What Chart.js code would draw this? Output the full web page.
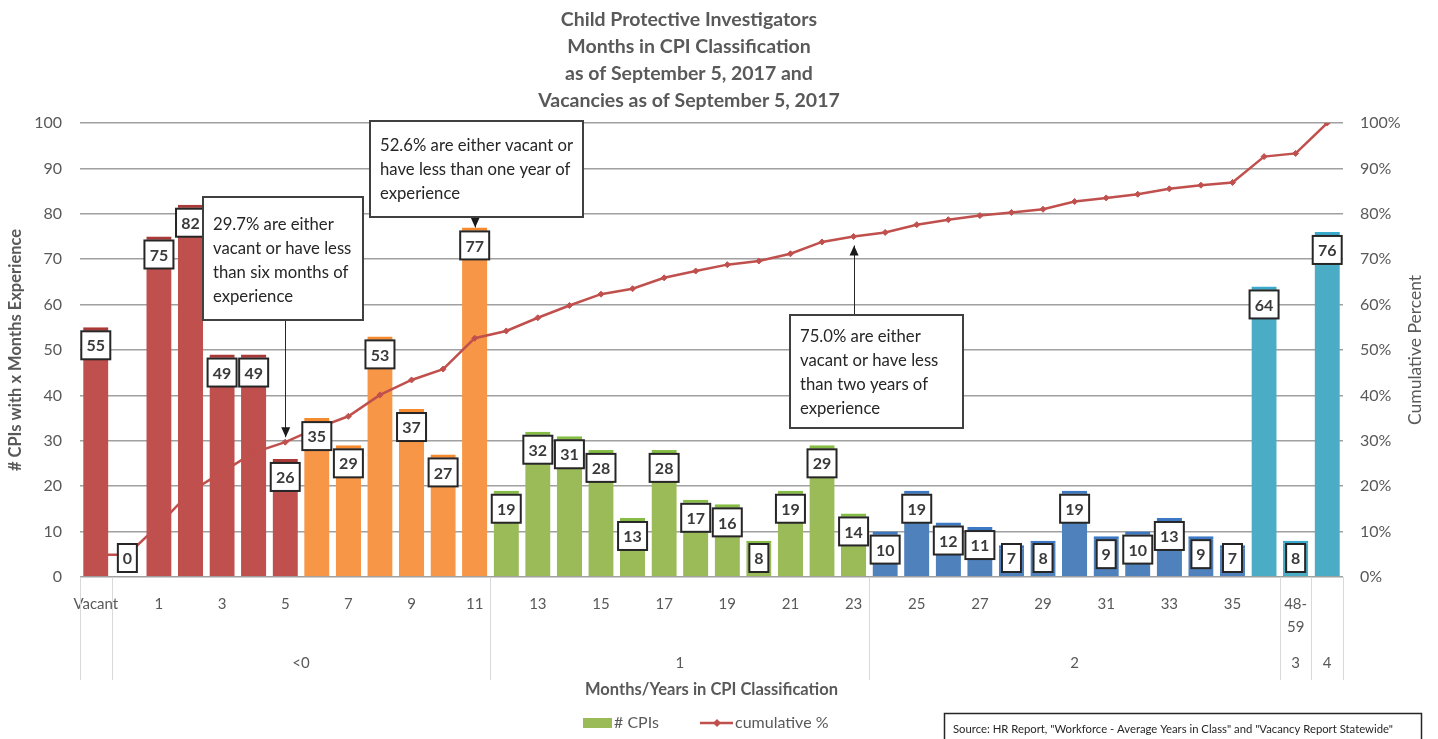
<!DOCTYPE html>
<html>
<head>
<meta charset="utf-8">
<title>Child Protective Investigators - Months in CPI Classification</title>
<script src="https://cdn.jsdelivr.net/npm/chart.js@4.4.1/dist/chart.umd.min.js"></script>
<style>
  html, body { margin: 0; padding: 0; background: #fff; }
  canvas { display: block; }
</style>
</head>
<body>
<canvas id="cpiChart" width="1438" height="739"></canvas>
<script>
// months in class (Vacant, then 0..35, then the yearly buckets)
const categories = ['Vacant', '0', '1', '2', '3', '4', '5', '6', '7', '8', '9', '10', '11',
  '12', '13', '14', '15', '16', '17', '18', '19', '20', '21', '22', '23',
  '24', '25', '26', '27', '28', '29', '30', '31', '32', '33', '34', '35',
  '36-47', '48-59', '60+'];

const cpiCounts = [55, 0, 75, 82, 49, 49, 26, 35, 29, 53, 37, 27, 77,
  19, 32, 31, 28, 13, 28, 17, 16, 8, 19, 29, 14,
  10, 19, 12, 11, 7, 8, 19, 9, 10, 13, 9, 7,
  64, 8, 76];

// cumulative %
const cumulativePct = [4.9, 4.9, 11.5, 18.8, 23.1, 27.4, 29.7, 32.8, 35.4, 40.1, 43.4, 45.8, 52.6,
  54.2, 57.1, 59.8, 62.3, 63.5, 65.9, 67.4, 68.8, 69.6, 71.2, 73.8, 75.0,
  75.9, 77.6, 78.7, 79.6, 80.3, 81.0, 82.7, 83.5, 84.3, 85.5, 86.3, 86.9,
  92.6, 93.3, 100];

// second level of the category axis (years), with how many categories each covers
const yearGroups = ['', '<0', '1', '2', '3', '4'];
const yearGroupSizes = [1, 12, 12, 13, 1, 1];

const titleLines = ['Child Protective Investigators', 'Months in CPI Classification',
  'as of September 5, 2017 and', 'Vacancies as of September 5, 2017'];

const callouts = [
  { lines: ['29.7% are either', 'vacant or have less', 'than six months of', 'experience'],
    index: 6, axis: 'y1', value: 29.7 },
  { lines: ['52.6% are either vacant or', 'have less than one year of', 'experience'],
    index: 12, axis: 'y', value: 77 },
  { lines: ['75.0% are either', 'vacant or have less', 'than two years of', 'experience'],
    index: 24, axis: 'y1', value: 75.0 }
];

const sourceNote = 'Source: HR Report, "Workforce - Average Years in Class" and "Vacancy Report Statewide"';

// ---- styling ----
const plotFont = 'Lato, "Open Sans", "DejaVu Sans", sans-serif';
const textGray = '#595959';

function barFill(i) {
  if (i <= 6) return '#C0504D';
  if (i <= 12) return '#F79646';
  if (i <= 24) return '#9BBB59';
  if (i <= 36) return '#4F81BD';
  return '#4BACC6';
}
function barCap(i) {
  if (i <= 6) return '#A93A37';
  if (i <= 12) return '#F58A2E';
  if (i <= 24) return '#86BD45';
  if (i <= 36) return '#3C78C4';
  return '#39AACB';
}

// where each callout box sits and how its arrow runs
const calloutBoxes = [
  { x: 203, y: 197, w: 160, h: 123, textTop: 28, dir: 'down', gap: 5 },
  { x: 370, y: 121, w: 213, h: 96, textTop: 25, dir: 'down', gap: 0 },
  { x: 790, y: 315, w: 173, h: 113, textTop: 22, dir: 'up', gap: 9 }
];

const valueBoxes = {
  id: 'valueBoxes',
  afterDatasetsDraw(chart) {
    const { ctx, chartArea } = chart;
    const meta = chart.getDatasetMeta(0);
    ctx.save();
    ctx.font = 'bold 16px ' + plotFont;
    ctx.textAlign = 'center';
    ctx.textBaseline = 'middle';
    meta.data.forEach((bar, i) => {
      const txt = String(cpiCounts[i]);
      const w = Math.round(ctx.measureText(txt).width + 10);
      const h = 28;
      const top = Math.min(bar.y + 4, chartArea.bottom - 5 - h);
      const left = bar.x - w / 2;
      ctx.fillStyle = '#fff';
      ctx.fillRect(left, top, w, h);
      ctx.lineWidth = 2;
      ctx.strokeStyle = '#262626';
      ctx.strokeRect(left, top, w, h);
      ctx.fillStyle = '#3a3a3a';
      ctx.fillText(txt, bar.x, top + h / 2 + 1);
    });
    ctx.restore();
  }
};

const chartDressing = {
  id: 'chartDressing',
  afterDraw(chart) {
    const { ctx, chartArea, scales } = chart;
    const xs = scales.x;
    ctx.save();

    // title
    ctx.fillStyle = textGray;
    ctx.font = 'bold 19.5px ' + plotFont;
    ctx.textAlign = 'center';
    ctx.textBaseline = 'middle';
    titleLines.forEach((t, k) => ctx.fillText(t, 689, 20 + k * 27));

    // axis titles
    ctx.font = 'bold 16.5px ' + plotFont;
    ctx.save();
    ctx.translate(16, 350);
    ctx.rotate(-Math.PI / 2);
    ctx.fillText('# CPIs with x Months Experience', 0, 0);
    ctx.restore();
    ctx.font = '17.5px ' + plotFont;
    ctx.save();
    ctx.translate(1415, 350);
    ctx.rotate(-Math.PI / 2);
    ctx.fillText('Cumulative Percent', 0, 0);
    ctx.restore();

    // year groups under the month labels
    const step = (chartArea.right - chartArea.left) / categories.length;
    ctx.strokeStyle = '#d9d9d9';
    ctx.lineWidth = 1;
    let start = 0;
    const edges = [chartArea.left];
    yearGroupSizes.forEach((n, g) => {
      const x0 = xs.getPixelForValue(start) - step / 2;
      const x1 = xs.getPixelForValue(start + n - 1) + step / 2;
      edges.push(x1);
      ctx.fillStyle = textGray;
      ctx.font = '15px ' + plotFont;
      ctx.fillText(yearGroups[g], (x0 + x1) / 2, 663);
      start += n;
    });
    edges.forEach(x => {
      ctx.beginPath();
      ctx.moveTo(Math.round(x) + 0.5, chartArea.bottom);
      ctx.lineTo(Math.round(x) + 0.5, 680);
      ctx.stroke();
    });

    ctx.font = 'bold 16.5px ' + plotFont;
    ctx.fillText('Months/Years in CPI Classification', (chartArea.left + chartArea.right) / 2, 690);

    // legend
    ctx.fillStyle = '#9BBB59';
    ctx.fillRect(583, 718, 29, 10);
    ctx.fillStyle = textGray;
    ctx.font = '16px ' + plotFont;
    ctx.textAlign = 'left';
    ctx.fillText('# CPIs', 614, 723);
    ctx.strokeStyle = '#C0504D';
    ctx.lineWidth = 2.5;
    ctx.beginPath();
    ctx.moveTo(700, 723);
    ctx.lineTo(733, 723);
    ctx.stroke();
    ctx.fillStyle = '#C0504D';
    ctx.beginPath();
    ctx.moveTo(717, 719); ctx.lineTo(721, 723); ctx.lineTo(717, 727); ctx.lineTo(713, 723);
    ctx.closePath();
    ctx.fill();
    ctx.fillStyle = textGray;
    ctx.fillText('cumulative %', 735, 723);

    // source note
    ctx.fillStyle = '#fff';
    ctx.fillRect(944, 713, 477, 30);
    ctx.strokeStyle = '#262626';
    ctx.lineWidth = 1.5;
    ctx.strokeRect(944.5, 713.5, 477, 30);
    ctx.fillStyle = '#262626';
    ctx.font = '11.3px ' + plotFont;
    ctx.fillText(sourceNote, 953, 729);

    // callouts
    callouts.forEach((c, k) => {
      const b = calloutBoxes[k];
      const ax = xs.getPixelForValue(c.index);
      const py = scales[c.axis].getPixelForValue(c.value);
      let fromY, tipY;
      if (b.dir === 'down') { fromY = b.y + b.h; tipY = py - b.gap; }
      else { fromY = b.y; tipY = py + b.gap; }
      ctx.strokeStyle = '#262626';
      ctx.lineWidth = 1;
      ctx.beginPath();
      ctx.moveTo(Math.round(ax) + 0.5, fromY);
      ctx.lineTo(Math.round(ax) + 0.5, tipY);
      ctx.stroke();
      const s = b.dir === 'down' ? -1 : 1;
      ctx.fillStyle = '#1a1a1a';
      ctx.beginPath();
      ctx.moveTo(ax + 0.5, tipY);
      ctx.lineTo(ax - 4, tipY + s * 10);
      ctx.lineTo(ax + 5, tipY + s * 10);
      ctx.closePath();
      ctx.fill();

      ctx.fillStyle = '#fff';
      ctx.fillRect(b.x, b.y, b.w, b.h);
      ctx.strokeStyle = '#404040';
      ctx.lineWidth = 2;
      ctx.strokeRect(b.x, b.y, b.w, b.h);
      ctx.fillStyle = '#262626';
      ctx.font = '16.7px ' + plotFont;
      ctx.textAlign = 'left';
      c.lines.forEach((t, j) => ctx.fillText(t, b.x + 10, b.y + b.textTop + j * 24));
    });

    ctx.restore();
  }
};

Chart.defaults.font.family = plotFont;
Chart.defaults.color = textGray;

new Chart(document.getElementById('cpiChart').getContext('2d'), {
  type: 'bar',
  data: {
    labels: categories,
    datasets: [{
      type: 'bar',
      label: '# CPIs',
      data: cpiCounts,
      yAxisID: 'y',
      order: 2,
      backgroundColor: categories.map((_, i) => barFill(i)),
      borderColor: categories.map((_, i) => barCap(i)),
      borderWidth: { top: 3, left: 0, right: 0, bottom: 0 },
      borderSkipped: 'bottom',
      barPercentage: 0.8,
      categoryPercentage: 1.0
    }, {
      type: 'line',
      label: 'cumulative %',
      data: cumulativePct,
      yAxisID: 'y1',
      order: 1,
      borderColor: '#C0504D',
      backgroundColor: '#C0504D',
      borderWidth: 2.5,
      pointStyle: 'rectRot',
      pointRadius: 3,
      pointBorderWidth: 1,
      tension: 0,
      fill: false
    }]
  },
  options: {
    responsive: false,
    animation: false,
    devicePixelRatio: 1,
    layout: { padding: { top: 123, bottom: 2, left: 0, right: 0 } },
    plugins: {
      legend: { display: false },
      title: { display: false },
      tooltip: { enabled: false }
    },
    scales: {
      x: {
        grid: { display: false, drawTicks: false },
        border: { display: false },
        ticks: {
          autoSkip: false,
          maxRotation: 0,
          padding: 16,
          font: { size: 15, lineHeight: 1.5 },
          color: textGray,
          callback: (v, i) => {
            if (i % 2 !== 0) return '';
            const c = categories[i];
            return c.includes('-') ? [c.split('-')[0] + '-', c.split('-')[1]] : c;
          }
        },
        afterFit: axis => { axis.height = 160; }
      },
      y: {
        position: 'left',
        min: 0,
        max: 100,
        grid: { color: '#a0a0a0', lineWidth: 1.5, drawTicks: false },
        border: { display: false },
        ticks: { stepSize: 10, padding: 18, font: { size: 16 }, color: textGray },
        afterFit: axis => { axis.width = 80; }
      },
      y1: {
        position: 'right',
        min: 0,
        max: 100,
        grid: { drawOnChartArea: false, drawTicks: false },
        border: { display: false },
        ticks: { stepSize: 10, padding: 17, font: { size: 16 }, color: textGray,
          callback: v => v + '%' },
        afterFit: axis => { axis.width = 95; }
      }
    }
  },
  plugins: [valueBoxes, chartDressing]
});
</script>
</body>
</html>
